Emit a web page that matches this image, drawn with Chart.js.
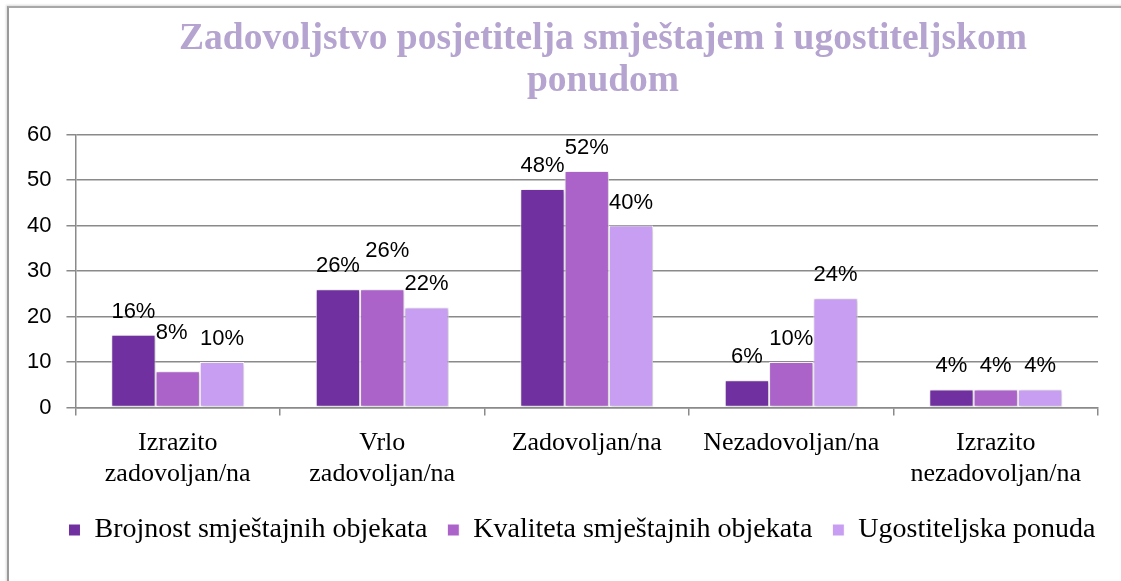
<!DOCTYPE html>
<html>
<head>
<meta charset="utf-8">
<script src="https://cdn.jsdelivr.net/npm/chart.js@4/dist/chart.umd.min.js"></script>
<style>
  html, body { margin: 0; padding: 0; background: #fff; }
  #okvir {
    position: absolute; left: 0; top: 0; width: 1121px; height: 581px; overflow: hidden;
  }
  #rub {
    position: absolute; left: 7px; top: 6px; width: 1130px; height: 600px;
    border-left: 2px solid #9a9a9a; border-top: 2px solid #a8a8a8;
    box-shadow: -1px -1px 2px rgba(0,0,0,0.15);
  }
  canvas { position: absolute; left: 0; top: 0; }
</style>
</head>
<body>
<div id="okvir">
  <div id="rub"></div>
  <canvas id="grafikon" width="1121" height="581"></canvas>
</div>
<script>
const kategorije = [
  ["Izrazito", "zadovoljan/na"],
  ["Vrlo", "zadovoljan/na"],
  "Zadovoljan/na",
  "Nezadovoljan/na",
  ["Izrazito", "nezadovoljan/na"]
];
const brojnost = [16, 26, 48, 6, 4];
const kvaliteta = [8, 26, 52, 10, 4];
const ugostiteljska = [10, 22, 40, 24, 4];
const yTicks = [0, 10, 20, 30, 40, 50, 60];

const naslov = ["Zadovoljstvo posjetitelja smještajem i ugostiteljskom", "ponudom"];

// pomak natpisa nekih vrijednosti (kao u izvorniku)
const pomakNatpisa = { "0-1": [-6, -15], "1-1": [5, -15] };

const sjenaStupaca = {
  id: "sjenaStupaca",
  beforeDatasetsDraw(chart) {
    const ctx = chart.ctx;
    ctx.save();
    ctx.shadowColor = "rgba(0,0,0,0.25)";
    ctx.shadowBlur = 4;
    ctx.shadowOffsetX = 1;
    ctx.shadowOffsetY = 1;
  },
  afterDatasetsDraw(chart) {
    chart.ctx.restore();
  }
};

const natpisi = {
  id: "natpisi",
  afterDatasetsDraw(chart) {
    const ctx = chart.ctx;
    ctx.save();
    ctx.font = "22px 'Liberation Sans', Arial, sans-serif";
    ctx.fillStyle = "#000";
    ctx.textAlign = "center";
    ctx.textBaseline = "alphabetic";
    chart.data.datasets.forEach((ds, di) => {
      chart.getDatasetMeta(di).data.forEach((bar, i) => {
        const p = pomakNatpisa[i + "-" + di] || [0, 0];
        ctx.fillText(ds.data[i] + "%", bar.x + p[0], bar.y - 17 + p[1]);
      });
    });
    ctx.restore();
  }
};

const pomakKutija = {
  id: "pomakKutija",
  afterLayout(chart) {
    const t = chart.titleBlock;
    if (t) { t.left += 48; t.right += 48; }
    const l = chart.legend;
    if (l) { l.left += 27; l.right += 27; l.top -= 6; l.bottom -= 6; }
  }
};

new Chart(document.getElementById("grafikon"), {
  type: "bar",
  data: {
    labels: kategorije,
    datasets: [
      { label: "Brojnost smještajnih objekata", data: brojnost, backgroundColor: "#7030a0" },
      { label: "Kvaliteta smještajnih objekata", data: kvaliteta, backgroundColor: "#ac63c9" },
      { label: "Ugostiteljska ponuda", data: ugostiteljska, backgroundColor: "#c89ef2" }
    ]
  },
  options: {
    responsive: false,
    animation: false,
    layout: { padding: { left: 12, right: 23, top: 0, bottom: 21 } },
    datasets: {
      bar: {
        categoryPercentage: 0.65,
        barPercentage: 1.0,
        borderColor: "#ffffff",
        borderWidth: 1,
        borderSkipped: false
      }
    },
    plugins: {
      title: {
        display: true,
        text: naslov,
        color: "#b5a3d0",
        font: { family: "'Liberation Serif', 'Times New Roman', serif", size: 37.5, weight: "bold", lineHeight: 1.1 },
        padding: { top: 19, bottom: 33 }
      },
      legend: {
        position: "bottom",
        labels: {
          color: "#000",
          font: { family: "'Liberation Serif', 'Times New Roman', serif", size: 28 },
          boxWidth: 12,
          boxHeight: 12,
          padding: 20
        }
      },
      tooltip: { enabled: false }
    },
    scales: {
      x: {
        grid: {
          offset: true,
          drawOnChartArea: false,
          drawTicks: true,
          tickLength: 8,
          color: "#8a8a8a",
          lineWidth: 1.5
        },
        border: { color: "#8a8a8a", width: 1.5 },
        ticks: {
          color: "#000",
          maxRotation: 0,
          autoSkip: false,
          padding: 12,
          font: { family: "'Liberation Serif', 'Times New Roman', serif", size: 26, lineHeight: 1.2 }
        }
      },
      y: {
        min: 0,
        max: 60,
        afterBuildTicks(axis) { axis.ticks = yTicks.map(v => ({ value: v })); },
        grid: { color: "#8a8a8a", lineWidth: 1.5, tickLength: 9 },
        border: { color: "#8a8a8a", width: 1.5 },
        ticks: {
          color: "#000",
          padding: 15,
          font: { family: "'Liberation Sans', Arial, sans-serif", size: 22 }
        }
      }
    }
  },
  plugins: [sjenaStupaca, natpisi, pomakKutija]
});
</script>
</body>
</html>
